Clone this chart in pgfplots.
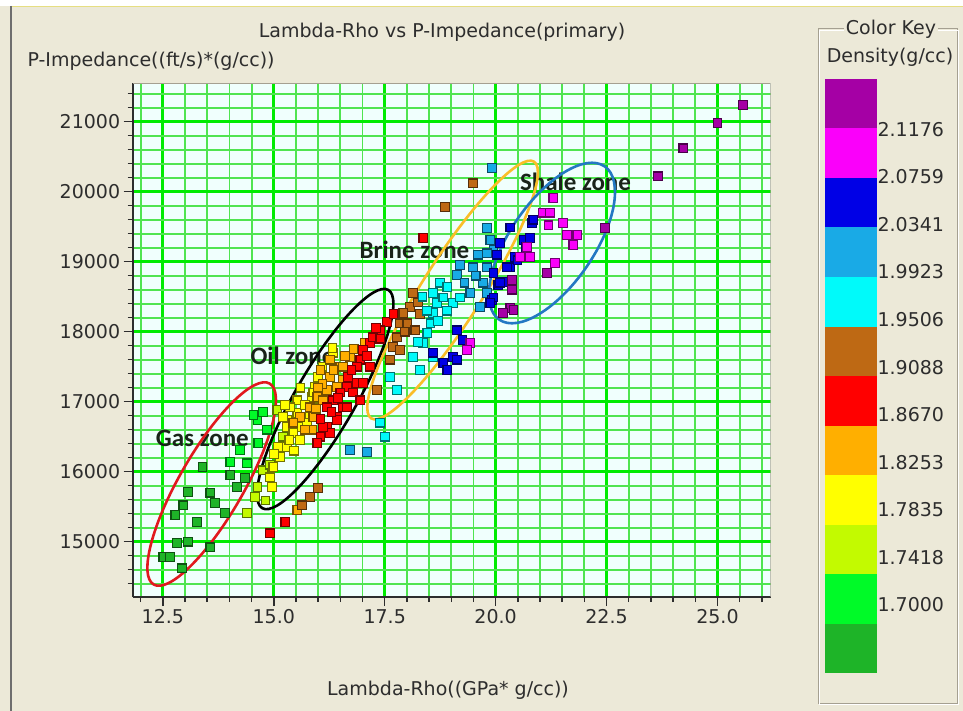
\documentclass[border=0pt]{standalone}
\usepackage{pgfplots}
\pgfplotsset{compat=1.18}
\usepackage{fontspec}
\setmainfont{DejaVu Sans}
\newfontfamily\zonefont{Carlito}
\definecolor{bgc}{RGB}{236,233,216}
\definecolor{plotbg}{RGB}{240,255,253}
\definecolor{gmaj}{RGB}{0,235,0}
\definecolor{gmin}{RGB}{80,228,80}
\definecolor{txt}{RGB}{45,45,45}
\definecolor{boxc}{RGB}{165,160,145}
\definecolor{topl}{RGB}{230,222,130}
\definecolor{leftl}{RGB}{110,110,110}
\definecolor{kDG}{RGB}{30,180,40}
\definecolor{kG}{RGB}{0,250,40}
\definecolor{kYG}{RGB}{195,250,0}
\definecolor{kY}{RGB}{255,255,0}
\definecolor{kO}{RGB}{255,175,0}
\definecolor{kR}{RGB}{255,0,0}
\definecolor{kBr}{RGB}{190,105,20}
\definecolor{kC}{RGB}{0,250,250}
\definecolor{kS}{RGB}{25,170,230}
\definecolor{kB}{RGB}{0,0,230}
\definecolor{kM}{RGB}{250,0,250}
\definecolor{kP}{RGB}{165,0,165}
\definecolor{ellR}{RGB}{225,25,30}
\definecolor{ellY}{RGB}{250,190,40}
\definecolor{ellB}{RGB}{35,120,195}
\definecolor{zonec}{RGB}{25,35,25}
\newcommand{\fs}{\fontsize{19}{22}\selectfont}
\pgfplotsset{
  dens/.style={only marks, mark=square*, mark size=4.3pt,
    mark options={solid, fill=#1, draw=#1!45!black, line width=1.1pt}},
}
\begin{document}
\begin{tikzpicture}
\useasboundingbox (0,0) rectangle (963pt,-711pt);
\fill[bgc] (0,0) rectangle (963pt,-711pt);
\fill[white] (0,0) rectangle (963pt,-6pt);
\draw[topl, line width=1.2pt] (10pt,-6.5pt) -- (963pt,-6.5pt);
\draw[leftl, line width=1.2pt] (11pt,-6pt) -- (11pt,-711pt);

\node[font=\fs, text=txt] at (442pt,-32pt) {Lambda-Rho vs P-Impedance(primary)};
\node[font=\fs, text=txt, anchor=west] at (24pt,-61pt) {P-Impedance((ft/s)*(g/cc))};
\node[font=\fs, text=txt] at (448pt,-690pt) {Lambda-Rho((GPa* g/cc))};

\begin{axis}[
  at={(132.7pt,-597pt)}, anchor=south west,
  scale only axis, width=638pt, height=514pt,
  xmin=11.82, xmax=26.2, ymin=14210, ymax=21553,
  axis background/.style={fill=plotbg},
  xtick={12.5,15,17.5,20,22.5,25},
  minor xtick={12,12.5,13,13.5,14,14.5,15,15.5,16,16.5,17,17.5,18,18.5,19,19.5,20,20.5,21,21.5,22,22.5,23,23.5,24,24.5,25,25.5,26},
  ytick={15000,16000,17000,18000,19000,20000,21000},
  minor ytick={14400,14600,...,21400},
  grid=both,
  major grid style={draw=gmaj, line width=3pt},
  minor grid style={draw=gmin, line width=1.8pt},
  axis x line*=bottom, axis y line*=left,
  axis line style={-, draw=txt, line width=2pt},
  tick align=outside,
  major tick length=9pt, minor tick length=5pt,
  tick style={draw=txt, line width=1.5pt},
  tick label style={font=\fs, text=txt},
  /pgf/number format/assume math mode=true,
  xticklabel style={/pgf/number format/.cd, fixed, fixed zerofill, precision=1},
  yticklabel style={/pgf/number format/1000 sep={}},
  scaled ticks=false,
]
\draw[boxc, line width=1pt] (rel axis cs:0,1) -- (rel axis cs:1,1) -- (rel axis cs:1,0);

\node[font=\zonefont\bfseries\fontsize{25}{25}\selectfont, text=zonec] at (axis cs:13.39,16481) {Gas zone};
\node[font=\zonefont\bfseries\fontsize{25}{25}\selectfont, text=zonec] at (axis cs:15.42,17653) {Oil zone};
\node[font=\zonefont\bfseries\fontsize{25}{25}\selectfont, text=zonec] at (axis cs:18.17,19167) {Brine zone};
\node[font=\zonefont\bfseries\fontsize{25}{25}\selectfont, text=zonec] at (axis cs:21.80,20138) {Shale zone};

% Density 1.66-1.70
\addplot[dens=kDG] coordinates {(12.51,14780) (12.66,14780) (12.93,14620) (12.82,14980) (13.07,15000) (12.78,15380) (12.96,15520) (13.27,15280) (13.07,15710) (13.57,15700) (13.68,15550) (13.90,15410) (13.57,14920) (13.39,16070) (14.02,15950) (14.35,15910) (14.17,15780)};
% 1.70-1.74
\addplot[dens=kG] coordinates {(14.02,16140) (14.40,16120) (14.63,16740) (14.76,16850) (14.85,16600) (14.65,16410) (14.54,16810) (14.24,16310)};
% 1.74-1.78
\addplot[dens=kYG] coordinates {(14.40,15410) (14.76,16020) (14.92,16100) (14.63,15780) (15.08,16880) (15.21,16500) (14.81,15590) (14.58,15640)};
% 1.78-1.83
\addplot[dens=kY] coordinates {(15.93,17210) (15.86,17070) (15.89,16920) (15.53,16840) (15.59,16640) (15.30,16740) (15.82,16780) (16.34,17700) (16.32,17770) (15.30,16640) (15.44,16550) (15.30,16350) (15.14,16210) (14.99,16070) (14.92,15920) (14.96,15780) (15.53,17020) (15.89,17130) (15.37,16920) (15.21,16780) (15.59,16450) (16.00,17350) (15.70,16950) (15.45,16300) (15.10,16350) (15.25,16950) (15.60,17200) (15.75,16700) (16.10,17500) (15.35,16450) (15.00,16250)};
% 1.83-1.87
\addplot[dens=kO] coordinates {(16.72,17640) (16.50,17500) (16.27,17350) (16.20,17170) (16.56,17310) (15.98,17070) (15.82,16920) (15.59,16780) (15.44,16700) (16.56,17500) (16.43,17210) (16.11,17020) (15.89,16780) (15.86,16600) (16.27,17600) (17.06,17840) (16.05,17450) (16.80,17750) (16.10,17250) (15.53,15450) (16.35,17450) (16.00,17200) (15.70,16600) (16.60,17650) (15.95,16900)};
% 1.87-1.91
\addplot[dens=kR] coordinates {(17.55,18140) (17.39,18020) (17.17,17840) (17.01,17740) (16.95,17600) (16.88,17500) (16.67,17350) (16.65,17210) (16.50,17130) (16.34,17020) (16.20,16920) (16.88,17270) (16.79,17130) (16.56,16920) (16.43,16780) (16.20,16640) (16.05,16500) (15.98,16410) (16.27,16550) (16.43,16740) (16.95,17020) (17.01,17270) (17.17,17500) (16.65,16920) (16.11,16640) (15.26,15280) (14.92,15120) (18.37,19340) (17.24,17920) (17.30,18050) (17.70,18250) (16.30,16850) (16.75,17450) (17.10,17650) (17.40,17900) (16.45,17050) (16.05,16750)};
% 1.91-1.95
\addplot[dens=kBr] coordinates {(19.49,20120) (18.86,19780) (18.14,18550) (18.07,18350) (18.25,18420) (17.92,18270) (17.85,18120) (18.01,18120) (18.19,18020) (17.78,17920) (17.69,17780) (17.85,17740) (17.33,17170) (16.00,15770) (15.82,15640) (15.64,15520) (17.62,17600) (18.30,18250) (17.95,18000)};
% 1.95-1.99
\addplot[dens=kC] coordinates {(18.75,18700) (18.91,18640) (18.59,18550) (18.68,18410) (18.82,18490) (19.04,18410) (19.20,18490) (18.59,18270) (18.53,18120) (18.46,17980) (18.37,17840) (18.14,17640) (18.30,17450) (18.59,17640) (17.62,17350) (17.78,17170) (17.39,16700) (17.51,16500) (18.45,18300) (18.70,18150) (18.90,18300) (18.25,17850) (18.35,18500)};
% 1.99-2.03
\addplot[dens=kS] coordinates {(19.92,20340) (19.81,19480) (19.88,19310) (19.95,19170) (19.81,19120) (19.81,18920) (19.49,18920) (19.20,18950) (19.13,18810) (19.43,18550) (19.72,18700) (19.81,18550) (19.65,18350) (16.72,16310) (17.10,16280) (19.30,18700) (19.55,18800) (19.60,19100)};
% 2.03-2.08
\addplot[dens=kB] coordinates {(20.82,19550) (20.85,19600) (20.63,19310) (20.67,19210) (20.44,19070) (20.33,18920) (20.17,18710) (19.92,18450) (20.33,19490) (19.95,18840) (20.06,18670) (20.78,19340) (20.10,19270) (20.03,19100) (20.49,19020) (20.26,18920) (20.10,18700) (19.95,18490) (19.88,18410) (19.13,18020) (19.04,17640) (18.82,17550) (19.13,17600) (18.59,17700) (18.91,17450) (19.25,17880)};
% 2.08-2.12
\addplot[dens=kM] coordinates {(21.30,19910) (21.07,19700) (21.23,19700) (21.19,19520) (21.52,19550) (21.61,19380) (21.84,19380) (21.75,19240) (20.71,19210) (20.78,19070) (20.55,19070) (21.34,18980) (19.43,17840) (19.36,17740)};
% 2.12-2.16
\addplot[dens=kP] coordinates {(25.58,21240) (25.00,20980) (24.23,20620) (23.66,20220) (22.47,19480) (20.37,18740) (20.37,18600) (21.16,18840) (20.33,18340) (20.17,18270) (20.40,18310)};

\draw[ellR, line width=2.6pt, rotate around={60:(axis cs:13.60,15824)}] (axis cs:13.60,15824) ellipse [x radius=116pt, y radius=32pt];
\draw[black, line width=2.6pt, rotate around={60:(axis cs:16.16,17038)}] (axis cs:16.16,17038) ellipse [x radius=126pt, y radius=30pt];
\draw[ellY, line width=2.6pt, rotate around={57.6:(axis cs:19.03,18596)}] (axis cs:19.03,18596) ellipse [x radius=152pt, y radius=30pt];
\draw[ellB, line width=2.6pt, rotate around={55.5:(axis cs:21.27,19267)}] (axis cs:21.27,19267) ellipse [x radius=93pt, y radius=42pt];
\end{axis}

% colour key
\draw[boxc, line width=1pt] (818pt,-29pt) rectangle (957pt,-703pt);
\draw[white, line width=0.8pt] (819.5pt,-30.5pt) rectangle (958.5pt,-704.5pt);
\node[font=\fs, text=txt, fill=bgc, inner sep=2pt] at (891pt,-29pt) {Color Key};
\node[font=\fs, text=txt] at (890pt,-57pt) {Density(g/cc)};
\begin{axis}[
  at={(825pt,-79pt)}, anchor=north west,
  scale only axis, width=52pt, height=594pt,
  xmin=0, xmax=1, ymin=0, ymax=12,
  axis line style={draw=none},
  xtick=\empty,
  ytick={1.38,2.34,3.30,4.26,5.22,6.18,7.14,8.10,9.06,10.02,10.98},
  yticklabels={1.7000,1.7418,1.7835,1.8253,1.8670,1.9088,1.9506,1.9923,2.0341,2.0759,2.1176},
  yticklabel pos=right,
  major tick length=0pt,
  tick style={draw=none},
  yticklabel style={font=\fs, text=txt, xshift=-3pt},
]
\addplot[fill=kDG, draw=none] coordinates {(0,0) (1,0) (1,1) (0,1)} -- cycle;
\addplot[fill=kG, draw=none] coordinates {(0,1) (1,1) (1,2) (0,2)} -- cycle;
\addplot[fill=kYG, draw=none] coordinates {(0,2) (1,2) (1,3) (0,3)} -- cycle;
\addplot[fill=kY, draw=none] coordinates {(0,3) (1,3) (1,4) (0,4)} -- cycle;
\addplot[fill=kO, draw=none] coordinates {(0,4) (1,4) (1,5) (0,5)} -- cycle;
\addplot[fill=kR, draw=none] coordinates {(0,5) (1,5) (1,6) (0,6)} -- cycle;
\addplot[fill=kBr, draw=none] coordinates {(0,6) (1,6) (1,7) (0,7)} -- cycle;
\addplot[fill=kC, draw=none] coordinates {(0,7) (1,7) (1,8) (0,8)} -- cycle;
\addplot[fill=kS, draw=none] coordinates {(0,8) (1,8) (1,9) (0,9)} -- cycle;
\addplot[fill=kB, draw=none] coordinates {(0,9) (1,9) (1,10) (0,10)} -- cycle;
\addplot[fill=kM, draw=none] coordinates {(0,10) (1,10) (1,11) (0,11)} -- cycle;
\addplot[fill=kP, draw=none] coordinates {(0,11) (1,11) (1,12) (0,12)} -- cycle;
\end{axis}
\end{tikzpicture}
\end{document}
